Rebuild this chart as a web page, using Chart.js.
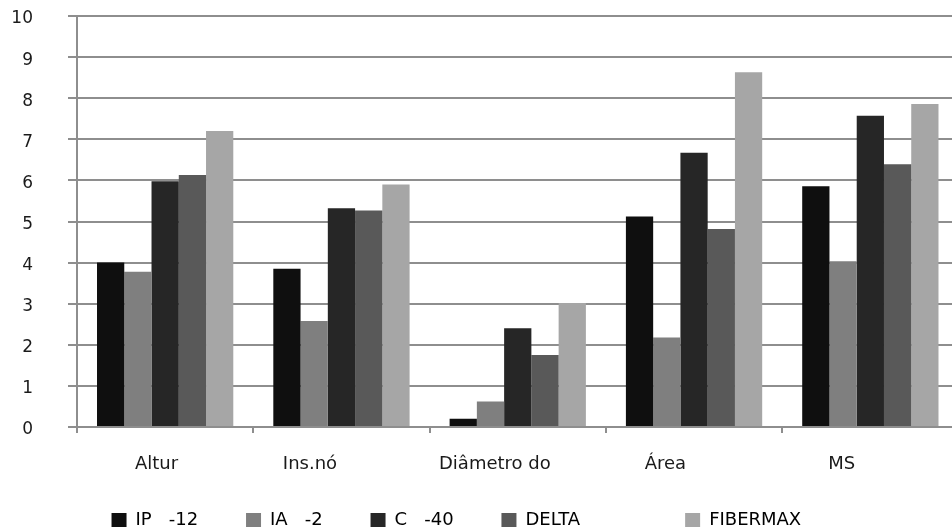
<!DOCTYPE html>
<html>
<head>
<meta charset="utf-8">
<script src="https://cdn.jsdelivr.net/npm/chart.js@4/dist/chart.umd.min.js"></script>
<style>
  html, body { margin: 0; padding: 0; background: #ffffff; overflow: hidden; }
  #wrap { width: 960px; height: 531px; }
</style>
</head>
<body>
<div id="wrap"><canvas id="chart"></canvas></div>
<script>
// Categories (x axis) and series names
const categories = ['Altur', 'Ins.nó', 'Diâmetro do', 'Área', 'MS'];
const seriesNames = ['IP   -12', 'IA   -2', 'C   -40', 'DELTA', 'FIBERMAX'];

// Series values, one entry per category
const ip12     = [4.00, 3.85, 0.20, 5.12, 5.86];
const ia2      = [3.78, 2.58, 0.62, 2.18, 4.03];
const c40      = [5.98, 5.32, 2.40, 6.67, 7.57];
const delta    = [6.13, 5.27, 1.75, 4.82, 6.39];
const fibermax = [7.20, 5.90, 3.02, 8.63, 7.86];

// Y axis tick values
const yTicks = [0, 1, 2, 3, 4, 5, 6, 7, 8, 9, 10];

// Layout helpers: trailing blanks that set where each label sits
const catLabelPad = [3, 11, 8, 10, 10];
const legendPad = [8, 8, 8, 18, 8];

const colors = ['#0f0f0f', '#7f7f7f', '#262626', '#595959', '#a6a6a6'];
const seriesValues = [ip12, ia2, c40, delta, fibermax];

const FONT = 'DejaVu Sans';
const GRID = '#8e8e8e';
const TEXT = '#1a1a1a';

const datasets = seriesNames.map((name, i) => ({
  label: name,
  data: seriesValues[i],
  backgroundColor: colors[i],
  borderWidth: 0,
  categoryPercentage: 0.773,
  barPercentage: 1.0
}));

new Chart(document.getElementById('chart'), {
  type: 'bar',
  data: { labels: categories, datasets },
  options: {
    responsive: true,
    maintainAspectRatio: false,
    animation: false,
    layout: { padding: { top: 16, right: 1.5, bottom: -8, left: 0 } },
    plugins: {
      tooltip: { enabled: false },
      legend: {
        position: 'bottom',
        labels: {
          boxWidth: 15,
          boxHeight: 14,
          padding: 2,
          color: TEXT,
          font: { family: FONT, size: 18 },
          generateLabels(chart) {
            return chart.data.datasets.map((ds, i) => ({
              text: ds.label + ' '.repeat(legendPad[i]),
              fillStyle: ds.backgroundColor,
              strokeStyle: ds.backgroundColor,
              lineWidth: 0,
              hidden: false,
              datasetIndex: i
            }));
          }
        }
      }
    },
    scales: {
      x: {
        offset: true,
        grid: {
          offset: true,
          display: true,
          drawOnChartArea: false,
          drawTicks: true,
          tickLength: 6,
          color: GRID,
          lineWidth: 2
        },
        border: { display: true, color: GRID, width: 2 },
        ticks: {
          color: TEXT,
          font: { family: FONT, size: 18 },
          padding: 21,
          maxRotation: 0,
          autoSkip: false,
          callback(value, index) {
            return categories[index] + ' '.repeat(catLabelPad[index]);
          }
        },
        afterFit(scale) { scale.height = 82; }
      },
      y: {
        min: 0,
        max: 10,
        afterBuildTicks(scale) { scale.ticks = yTicks.map(v => ({ value: v })); },
        grid: {
          color: GRID,
          lineWidth: 2,
          drawTicks: true,
          tickLength: 9
        },
        border: { display: true, color: GRID, width: 2 },
        ticks: {
          color: TEXT,
          font: { family: FONT, size: 17 },
          padding: 35,
          labelOffset: 3
        },
        afterFit(scale) {
          scale.width = 77;
          scale.paddingTop = 10;
          scale.paddingBottom = 10;
        }
      }
    }
  }
});
</script>
</body>
</html>
